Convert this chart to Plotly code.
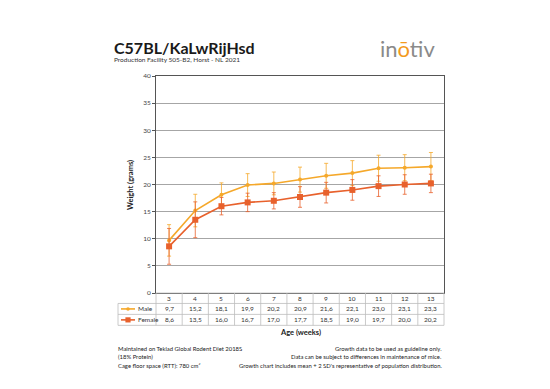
import plotly.graph_objects as go

weeks = [3, 4, 5, 6, 7, 8, 9, 10, 11, 12, 13]
male = [9.7, 15.2, 18.1, 19.9, 20.2, 20.9, 21.6, 22.1, 23.0, 23.1, 23.3]
female = [8.6, 13.5, 16.0, 16.7, 17.0, 17.7, 18.5, 19.0, 19.7, 20.0, 20.2]
male_sd = [2.9, 3.0, 2.2, 2.1, 2.1, 2.3, 2.3, 2.3, 2.4, 2.4, 2.6]
female_sd = [3.3, 3.3, 1.6, 1.7, 1.5, 1.9, 1.9, 1.9, 1.9, 1.8, 1.7]

MALE_C = "#F5A82A"
FEMALE_C = "#E8612C"
FONT = "Lato"
OFF = 8  # page body margin compensation

fig = go.Figure()
fig.add_trace(go.Scatter(
    x=weeks, y=male, mode="lines+markers", name="Male",
    line=dict(color=MALE_C, width=1.6),
    marker=dict(color=MALE_C, size=4, symbol="circle"),
    error_y=dict(type="data", array=male_sd, color=MALE_C, thickness=0.8, width=2),
))
fig.add_trace(go.Scatter(
    x=weeks, y=female, mode="lines+markers", name="Female",
    line=dict(color=FEMALE_C, width=1.6),
    marker=dict(color=FEMALE_C, size=6, symbol="square"),
    error_y=dict(type="data", array=female_sd, color=FEMALE_C, thickness=0.8, width=2),
))

W, H = 550, 389
L, R, T, B = 156 - OFF, 444 - OFF, 75.5 - OFF, 293.5 - OFF
ph = B - T


def py(p):
    return (B - (p - OFF)) / ph


def px(p):
    return ((p - OFF) - L) / (R - L)


shapes = []
annotations = []
GRID = "#bdbdbd"
row_y = [293.5, 304, 315, 326]
for i, yy in enumerate(row_y):
    x0 = px(156) if i == 0 else px(118)
    shapes.append(dict(type="line", xref="paper", yref="paper", x0=x0, x1=1,
                       y0=py(yy), y1=py(yy), line=dict(color=GRID, width=0.8)))
for k in range(len(weeks) + 1):
    xx = 156 + k * (444 - 156) / len(weeks)
    shapes.append(dict(type="line", xref="paper", yref="paper", x0=px(xx), x1=px(xx),
                       y0=py(row_y[0]), y1=py(row_y[3]), line=dict(color=GRID, width=0.8)))
shapes.append(dict(type="line", xref="paper", yref="paper", x0=px(118), x1=px(118),
                   y0=py(row_y[1]), y1=py(row_y[3]), line=dict(color=GRID, width=0.8)))

for w, m, f in zip(weeks, male, female):
    for yy, t in [((row_y[0] + row_y[1]) / 2, str(w)),
                  ((row_y[1] + row_y[2]) / 2, f"{m:.1f}".replace(".", ",")),
                  ((row_y[2] + row_y[3]) / 2, f"{f:.1f}".replace(".", ","))]:
        annotations.append(dict(x=w, y=py(yy), xref="x", yref="paper", text=t, showarrow=False,
                                font=dict(size=6.5, color="#333", family=FONT), xanchor="center", yanchor="middle"))

for (yy, c, name, sym) in [((row_y[1] + row_y[2]) / 2, MALE_C, "Male", "circle"),
                           ((row_y[2] + row_y[3]) / 2, FEMALE_C, "Female", "rect")]:
    shapes.append(dict(type="line", xref="paper", yref="paper", x0=px(121), x1=px(135),
                       y0=py(yy), y1=py(yy), line=dict(color=c, width=1.6)))
    r = 1.8 if sym == "circle" else 2.6
    shapes.append(dict(type=sym, xref="paper", yref="paper", x0=px(128 - r), x1=px(128 + r),
                       y0=py(yy + r), y1=py(yy - r), fillcolor=c, line=dict(color=c, width=0)))
    annotations.append(dict(x=px(136), y=py(yy), xref="paper", yref="paper", text=name, showarrow=False,
                            font=dict(size=6.5, color="#333", family=FONT), xanchor="left", yanchor="middle"))


def ptxt(x, y, s, size, anchor="left", bold=False, color="#222", angle=0):
    annotations.append(dict(x=px(x), y=py(y), xref="paper", yref="paper",
                            text=(f"<b>{s}</b>" if bold else s), showarrow=False, textangle=angle,
                            font=dict(size=size, color=color, family=FONT),
                            xanchor=anchor, yanchor="middle"))


ptxt(112, 47, "C57BL/KaLwRijHsd", 16, bold=True, color="#1a1a1a")
ptxt(112, 58.5, "Production Facility 505-B2, Horst - NL 2021", 6.5, color="#333")
ptxt(378, 48, "<span style='color:#8a8a8a'>in</span><span style='color:#F39A1E'>ō</span><span style='color:#8a8a8a'>tiv</span>", 22, color="#8a8a8a")
ptxt(131, 185, "Weight (grams)", 7.5, anchor="center", bold=True, angle=-90)
ptxt(300, 333, "Age (weeks)", 7.5, anchor="center", bold=True)
ptxt(116, 349, "Maintained on Teklad Global Rodent Diet 2018S", 5.9)
ptxt(116, 357.5, "(18% Protein)", 5.9)
ptxt(116, 366, "Cage floor space (RTT): 780 cm²", 5.9)
ptxt(444, 349, "Growth data to be used as guideline only.", 5.9, anchor="right")
ptxt(444, 357.5, "Data can be subject to differences in maintenance of mice.", 5.9, anchor="right")
ptxt(444, 366, "Growth chart includes mean + 2 SD's representative of population distribution.", 5.9, anchor="right")

fig.update_layout(
    width=W, height=H,
    margin=dict(l=L, r=W - R, t=T, b=H - B),
    paper_bgcolor="white", plot_bgcolor="white",
    showlegend=False,
    font=dict(family=FONT, color="#333"),
    shapes=shapes, annotations=annotations,
    xaxis=dict(range=[2.5, 13.5], showticklabels=False, showgrid=False, zeroline=False,
               showline=True, mirror=True, linecolor="#555", linewidth=1, ticks=""),
    yaxis=dict(range=[0, 40], dtick=5, showgrid=True, gridcolor="#a6a6a6", gridwidth=1,
               zeroline=False, showline=True, mirror=True, linecolor="#555", linewidth=1,
               ticks="outside", ticklen=3, tickcolor="#555",
               tickfont=dict(size=6.5, color="#444", family=FONT)),
)

fig.write_html("out.html")
